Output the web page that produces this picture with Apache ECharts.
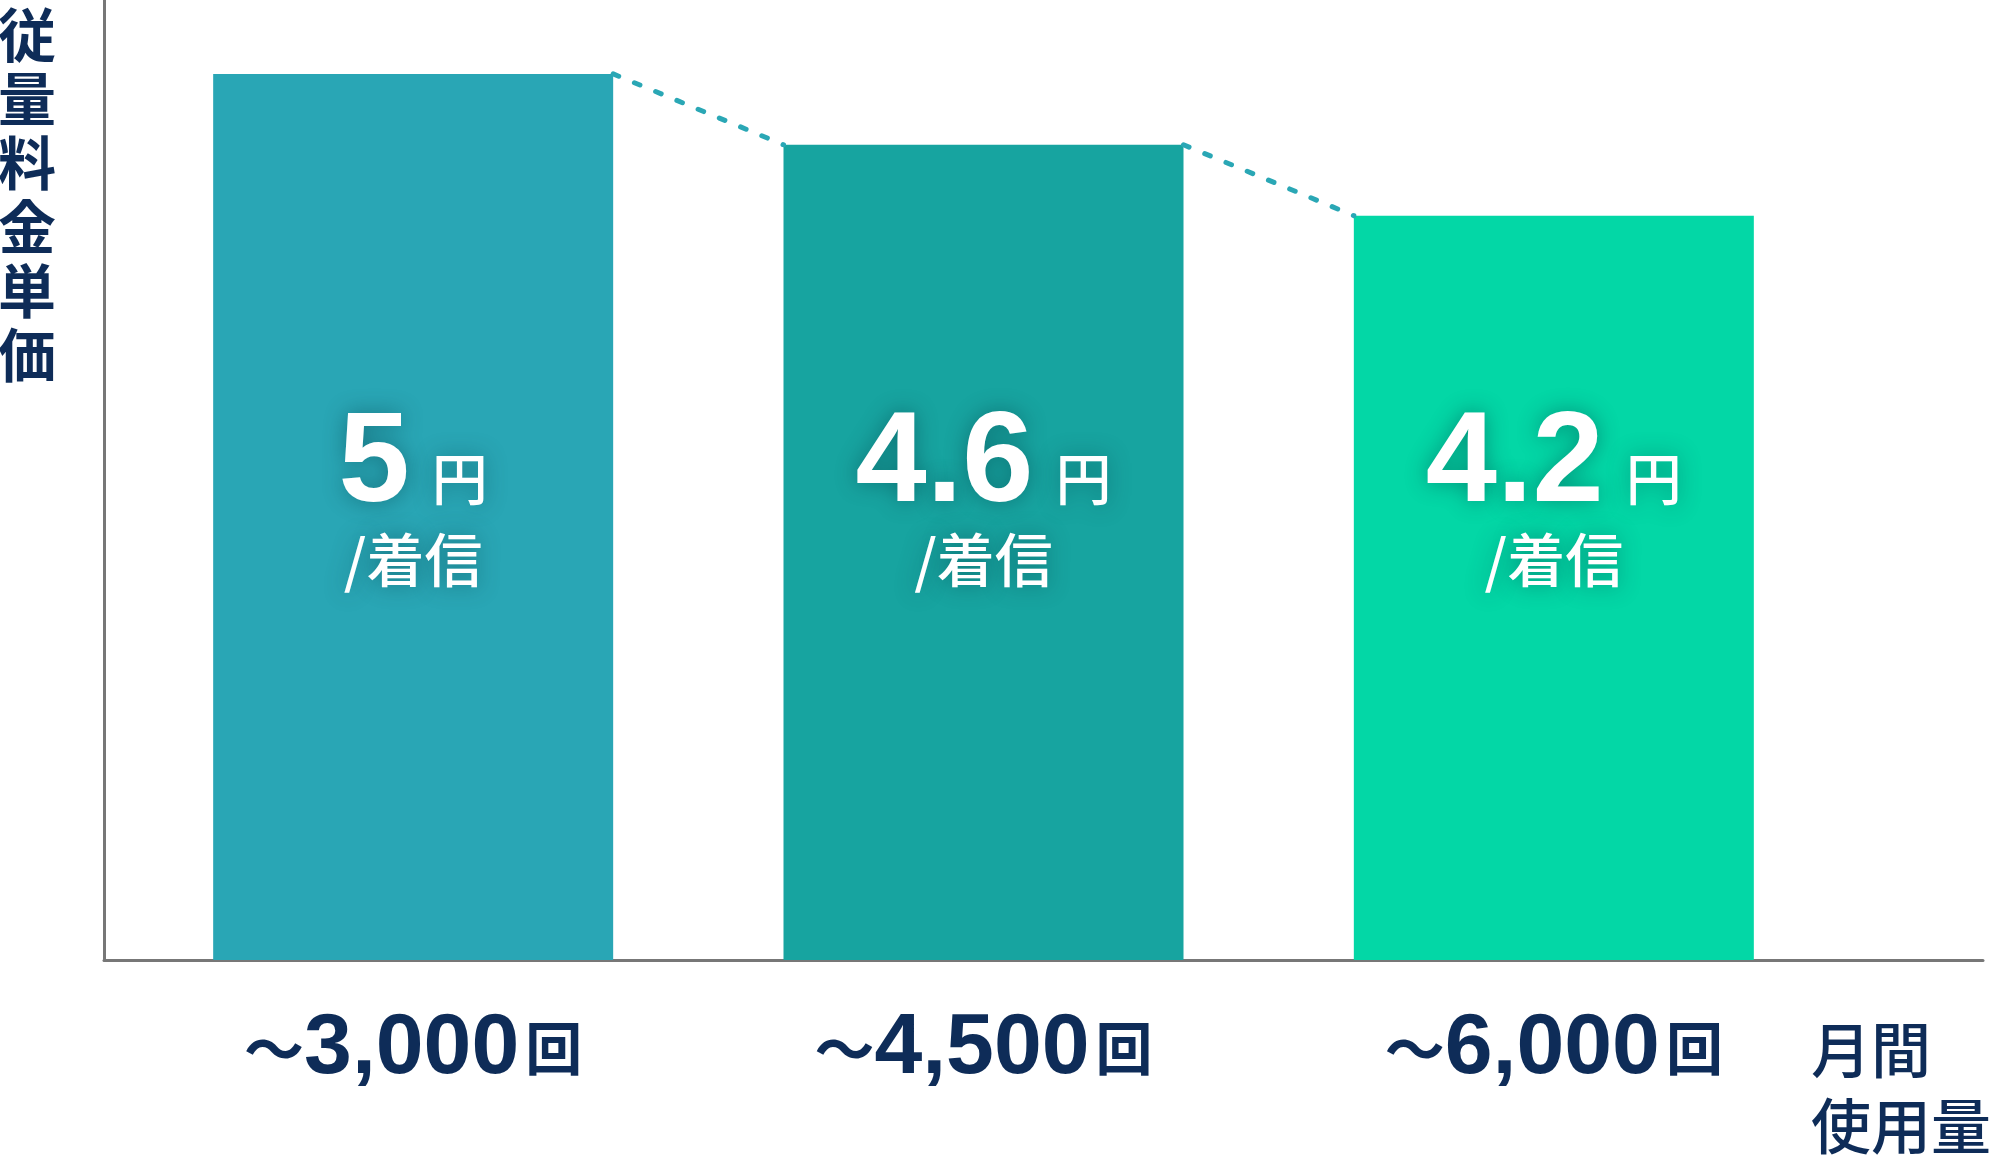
<!DOCTYPE html>
<html>
<head>
<meta charset="utf-8">
<script src="https://cdn.jsdelivr.net/npm/echarts@6/dist/echarts.min.js"></script>
<style>
html,body{margin:0;padding:0;background:#fff;}
#chart{width:1991px;height:1155px;}
</style>
</head>
<body>
<div id="chart"></div>
<script>
// ---- data ----
const categories = ['3,000', '4,500', '6,000'];
const prices = [5, 4.6, 4.2];
const barColors = ['#29a6b5', '#17a4a0', '#03d7a6'];
const categoryPrefix = '〜';
const categoryUnit = '回';
const priceUnit = '円';
const priceSuffix = '/着信';
const yTitle = '従量料金単価';
const xTitle = ['月間', '使用量'];

// ---- style ----
const navy = '#0e2c58';
const axisGray = '#777777';
const dashColor = '#2aa7b5';
const BAR_WIDTH = 400;
const latin = '"Liberation Sans", Arial, sans-serif';
const cjk = '"Noto Sans CJK JP", sans-serif';
const shadow = { textShadowColor: 'rgba(0,55,65,0.45)', textShadowBlur: 22 };

const chart = echarts.init(document.getElementById('chart'), null, { renderer: 'canvas' });

const connectorData = prices.slice(0, -1).map((v, i) => [i, v, prices[i + 1]]);

chart.setOption({
  animation: false,
  backgroundColor: '#ffffff',
  title: [
    {
      text: yTitle.split('').join('\n'),
      left: -2, top: 3, padding: 0,
      textStyle: { fontFamily: cjk, fontSize: 58, lineHeight: 64, fontWeight: 'bold', color: navy }
    },
    {
      text: xTitle.join('\n'),
      left: 1811, top: 1012, padding: 0,
      textStyle: { fontFamily: cjk, fontSize: 60, lineHeight: 76, fontWeight: 500, color: navy }
    }
  ],
  grid: [
    { left: 128, right: 152, top: 3, bottom: 195 },
    { left: 104, right: 8, top: 0, bottom: 195 }
  ],
  xAxis: [
    {
      type: 'category', gridIndex: 0, data: categories,
      axisLine: { show: false }, axisTick: { show: false },
      axisLabel: {
        margin: 44,
        formatter: v => `{t|${categoryPrefix}}{n|${v}}{u|${categoryUnit}}`,
        rich: {
          t: { fontFamily: cjk, fontWeight: 'bold', fontSize: 60, lineHeight: 90, color: navy },
          n: { fontFamily: latin, fontWeight: 'bold', fontSize: 86, lineHeight: 90, color: navy },
          u: { fontFamily: cjk, fontWeight: 'bold', fontSize: 57, lineHeight: 90, verticalAlign: 'top', color: navy, padding: [16, 0, 0, 6] }
        }
      },
      splitLine: { show: false }
    },
    {
      type: 'value', gridIndex: 1, min: 0, max: 1,
      axisLine: { show: true, lineStyle: { color: axisGray, width: 3 } },
      axisTick: { show: false }, axisLabel: { show: false }, splitLine: { show: false }
    }
  ],
  yAxis: [
    { type: 'value', gridIndex: 0, min: 0, max: 5.4, show: false },
    {
      type: 'value', gridIndex: 1, min: 0, max: 1,
      axisLine: { show: true, lineStyle: { color: axisGray, width: 3 } },
      axisTick: { show: false }, axisLabel: { show: false }, splitLine: { show: false }
    }
  ],
  series: [
    {
      type: 'bar',
      xAxisIndex: 0, yAxisIndex: 0,
      barWidth: BAR_WIDTH,
      z: 3,
      data: prices.map((v, i) => ({ value: v, itemStyle: { color: barColors[i] } })),
      label: {
        show: true,
        position: 'insideBottom',
        distance: 352,
        formatter: p => `{v|${p.value}}{u|${priceUnit}}\n{s|${priceSuffix}}`,
        rich: {
          v: Object.assign({ fontFamily: latin, fontWeight: 'bold', fontSize: 128, lineHeight: 110, verticalAlign: 'top', color: '#fff' }, shadow),
          u: Object.assign({ fontFamily: cjk, fontWeight: 500, fontSize: 56, lineHeight: 110, verticalAlign: 'top', color: '#fff', padding: [49, 0, 0, 22] }, shadow),
          s: Object.assign({ fontFamily: cjk, fontWeight: 500, fontSize: 58, lineHeight: 96, color: '#fff' }, shadow)
        }
      }
    },
    {
      type: 'custom',
      xAxisIndex: 0, yAxisIndex: 0,
      z: 4,
      data: connectorData,
      renderItem: (params, api) => {
        const i = api.value(0);
        const p1 = api.coord([i, api.value(1)]);
        const p2 = api.coord([i + 1, api.value(2)]);
        const half = BAR_WIDTH / 2;
        return {
          type: 'line',
          shape: { x1: p1[0] + half, y1: p1[1], x2: p2[0] - half, y2: p2[1] },
          style: { stroke: dashColor, lineWidth: 5, lineDash: [6, 17], lineCap: 'round' }
        };
      }
    }
  ]
});
</script>
</body>
</html>
